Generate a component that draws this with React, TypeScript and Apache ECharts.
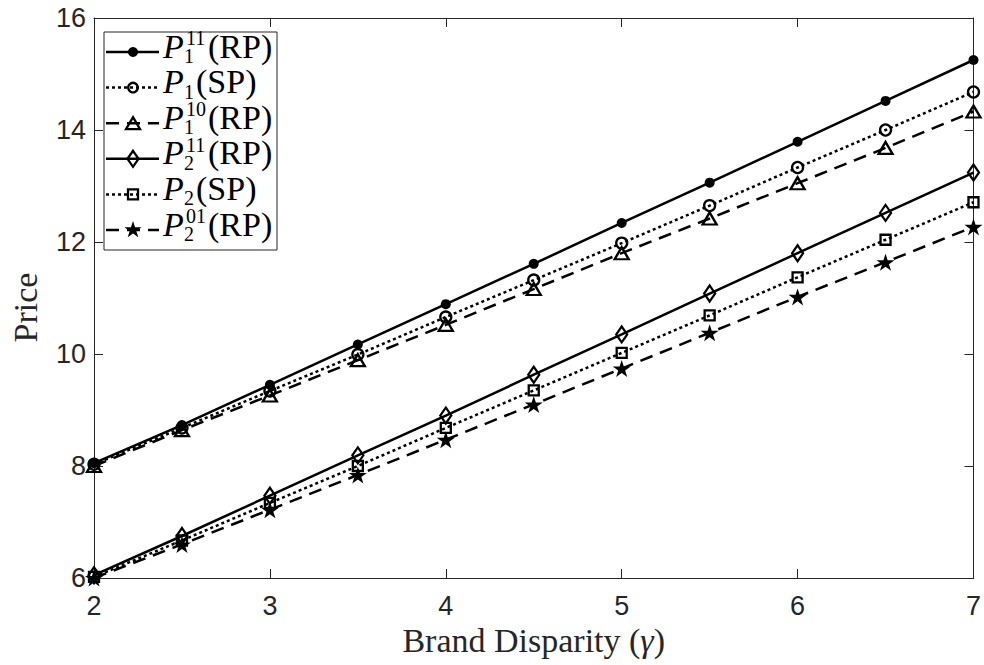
import React, { useEffect, useRef } from "react";
import * as echarts from "echarts";

// ---- data ----
const gammaValues = [2, 2.5, 3, 3.5, 4, 4.5, 5, 5.5, 6, 6.5, 7];
const p1RP11 = [8.05, 8.73, 9.45, 10.17, 10.89, 11.61, 12.34, 13.06, 13.79, 14.52, 15.25];
const p1SP = [8.03, 8.68, 9.34, 9.99, 10.66, 11.32, 11.98, 12.65, 13.33, 14.0, 14.68];
const p1RP10 = [8.0, 8.64, 9.26, 9.89, 10.52, 11.16, 11.8, 12.42, 13.05, 13.68, 14.33];
const p2RP11 = [6.05, 6.75, 7.47, 8.19, 8.9, 9.63, 10.35, 11.08, 11.8, 12.52, 13.24];
const p2SP = [6.02, 6.67, 7.34, 8.0, 8.68, 9.35, 10.02, 10.69, 11.37, 12.04, 12.71];
const p2RP01 = [6.0, 6.6, 7.22, 7.84, 8.47, 9.1, 9.74, 10.38, 11.02, 11.64, 12.27];

const xTicks = { min: 2, max: 7, interval: 1 };
const yTicks = { min: 6, max: 16, interval: 2 };

const seriesNames = ["P1^11(RP)", "P1(SP)", "P1^10(RP)", "P2^11(RP)", "P2(SP)", "P2^01(RP)"];
const legendSup = ["11", "", "10", "11", "", "01"];
const legendSub = ["1", "1", "1", "2", "2", "2"];
const legendTail = ["(RP)", "(SP)", "(RP)", "(RP)", "(SP)", "(RP)"];
const seriesData = [p1RP11, p1SP, p1RP10, p2RP11, p2SP, p2RP01];

// ---- styles ----
const INK = "#000";
const AXIS = "#262626";
const DOTTED = [3, 3];
const DASHED = [13, 8];
const STAR_PATH =
  "path://M50 0 L61.2 34.5 L97.6 34.5 L68.2 55.9 L79.4 90.5 L50 69.1 L20.6 90.5 L31.8 55.9 L2.4 34.5 L38.8 34.5 Z";
const CLEAR = "rgba(255,255,255,0)";

type Kind = "dot" | "ocircle" | "tri" | "dia" | "sq" | "star";
const styles: { dash: number[] | null; kind: Kind }[] = [
  { dash: null, kind: "dot" },
  { dash: DOTTED, kind: "ocircle" },
  { dash: DASHED, kind: "tri" },
  { dash: null, kind: "dia" },
  { dash: DOTTED, kind: "sq" },
  { dash: DASHED, kind: "star" },
];

function symbolFor(kind: Kind) {
  switch (kind) {
    case "dot":
      return { symbol: "circle", symbolSize: 10, itemStyle: { color: INK, borderWidth: 0 } };
    case "ocircle":
      return { symbol: "circle", symbolSize: 11, itemStyle: { color: CLEAR, borderColor: INK, borderWidth: 2.3 } };
    case "tri":
      return { symbol: "triangle", symbolSize: [14, 12], itemStyle: { color: CLEAR, borderColor: INK, borderWidth: 2.3 } };
    case "dia":
      return { symbol: "diamond", symbolSize: [11, 16], itemStyle: { color: CLEAR, borderColor: INK, borderWidth: 2.3 } };
    case "sq":
      return { symbol: "rect", symbolSize: 10, itemStyle: { color: CLEAR, borderColor: INK, borderWidth: 2.3 } };
    case "star":
      return { symbol: STAR_PATH, symbolSize: [18, 17], itemStyle: { color: INK, borderWidth: 0 } };
  }
}

function legendMarker(kind: Kind, cx: number, cy: number): any {
  const stroke = { stroke: INK, lineWidth: 2.3, fill: "none" };
  switch (kind) {
    case "dot":
      return { type: "circle", shape: { cx, cy, r: 5 }, style: { fill: INK } };
    case "ocircle":
      return { type: "circle", shape: { cx, cy, r: 4.8 }, style: stroke };
    case "tri":
      return { type: "polygon", shape: { points: [[cx, cy - 6], [cx + 7, cy + 6], [cx - 7, cy + 6]] }, style: stroke };
    case "dia":
      return { type: "polygon", shape: { points: [[cx, cy - 8], [cx + 5.5, cy], [cx, cy + 8], [cx - 5.5, cy]] }, style: stroke };
    case "sq":
      return { type: "rect", shape: { x: cx - 5, y: cy - 5, width: 10, height: 10 }, style: stroke };
    case "star": {
      const pts: number[][] = [];
      for (let k = 0; k < 10; k++) {
        const r = k % 2 === 0 ? 9 : 3.5;
        const a = -Math.PI / 2 + (k * Math.PI) / 5;
        pts.push([cx + r * Math.cos(a), cy + r * Math.sin(a)]);
      }
      return { type: "polygon", shape: { points: pts }, style: { fill: INK } };
    }
  }
}

function buildLegend(): any[] {
  const els: any[] = [];
  const box = { x: 104, y: 32, w: 173, h: 218 };
  els.push({
    type: "rect",
    shape: { x: box.x, y: box.y, width: box.w, height: box.h },
    style: { fill: "#fff", stroke: AXIS, lineWidth: 1 },
    z: 100,
  });
  const mainFont = "34px 'Liberation Serif'";
  const itFont = "italic 34px 'Liberation Serif'";
  const scriptFont = "20px 'Liberation Serif'";
  for (let i = 0; i < 6; i++) {
    const yl = 52 + i * 35.6;
    const st = styles[i];
    els.push({
      type: "line",
      shape: { x1: 106, y1: yl, x2: 159, y2: yl },
      style: { stroke: INK, lineWidth: 2.5, lineDash: st.dash || undefined, lineCap: "butt" },
      z: 101,
    });
    const m = legendMarker(st.kind, 133, yl);
    m.z = 102;
    els.push(m);
    els.push({
      type: "text",
      x: 163,
      y: yl - 6,
      style: { text: "P", font: itFont, fill: INK, align: "left", verticalAlign: "middle", lineHeight: 28 },
      z: 102,
    });
    if (legendSup[i]) {
      els.push({
        type: "text",
        x: 186,
        y: yl - 14,
        style: { text: legendSup[i], font: scriptFont, fill: INK, align: "left", verticalAlign: "middle", lineHeight: 14 },
        z: 102,
      });
    }
    els.push({
      type: "text",
      x: 184,
      y: yl + 4,
      style: { text: legendSub[i], font: scriptFont, fill: INK, align: "left", verticalAlign: "middle", lineHeight: 14 },
      z: 102,
    });
    els.push({
      type: "text",
      x: legendSup[i] ? 208 : 196,
      y: yl - 6,
      style: { text: legendTail[i], font: mainFont, fill: INK, align: "left", verticalAlign: "middle", lineHeight: 28 },
      z: 102,
    });
  }
  return els;
}

export default function App() {
  const ref = useRef<HTMLDivElement>(null);
  useEffect(() => {
    if (!ref.current) return;
    const chart = echarts.init(ref.current, null, { renderer: "svg" });
    const axisLine = { show: true, onZero: false, lineStyle: { color: AXIS, width: 1 } };
    const axisTick = { show: true, inside: true, length: 9, lineStyle: { color: AXIS, width: 1 } };
    const tickFont = { color: AXIS, fontSize: 27, fontFamily: "'Liberation Sans', Arial, sans-serif" };
    const option: any = {
      animation: false,
      backgroundColor: "#fff",
      grid: { left: 91, right: 9, top: 18, bottom: 87, containLabel: false },
      xAxis: [
        {
          type: "value",
          ...xTicks,
          position: "bottom",
          axisLine,
          axisTick,
          splitLine: { show: false },
          axisLabel: { ...tickFont, margin: 14 },
          name: "Brand Disparity ({g|γ})",
          nameLocation: "middle",
          nameGap: 40,
          nameTextStyle: {
            color: AXIS,
            fontSize: 34,
            fontFamily: "'Liberation Serif', serif",
            rich: { g: { fontSize: 34, fontStyle: "italic", fontFamily: "'Liberation Serif', serif", color: AXIS } },
          },
        },
        {
          type: "value",
          ...xTicks,
          position: "top",
          axisLine,
          axisTick,
          splitLine: { show: false },
          axisLabel: { show: false },
        },
      ],
      yAxis: [
        {
          type: "value",
          ...yTicks,
          position: "left",
          axisLine,
          axisTick,
          splitLine: { show: false },
          axisLabel: { ...tickFont, margin: 8 },
          name: "Price",
          nameLocation: "middle",
          nameGap: 52,
          nameTextStyle: {
            color: AXIS,
            fontSize: 34,
            fontFamily: "'Liberation Serif', serif",
            padding: [0, 19, 0, 0],
          },
        },
        {
          type: "value",
          ...yTicks,
          position: "right",
          axisLine,
          axisTick,
          splitLine: { show: false },
          axisLabel: { show: false },
        },
      ],
      series: seriesData.map((vals, i) => {
        const st = styles[i];
        return {
          name: seriesNames[i],
          type: "line",
          xAxisIndex: 0,
          yAxisIndex: 0,
          data: gammaValues.map((g, j) => [g, vals[j]]),
          showAllSymbol: true,
          ...symbolFor(st.kind),
          lineStyle: { color: INK, width: 2.5, type: st.dash ? st.dash : "solid", cap: "butt" },
          emphasis: { disabled: true },
          z: 2 + i,
        };
      }),
      graphic: buildLegend(),
    };
    chart.setOption(option);
    return () => chart.dispose();
  }, []);
  return <div ref={ref} style={{ width: 984, height: 665, position: "absolute", left: 0, top: 0 }} />;
}
